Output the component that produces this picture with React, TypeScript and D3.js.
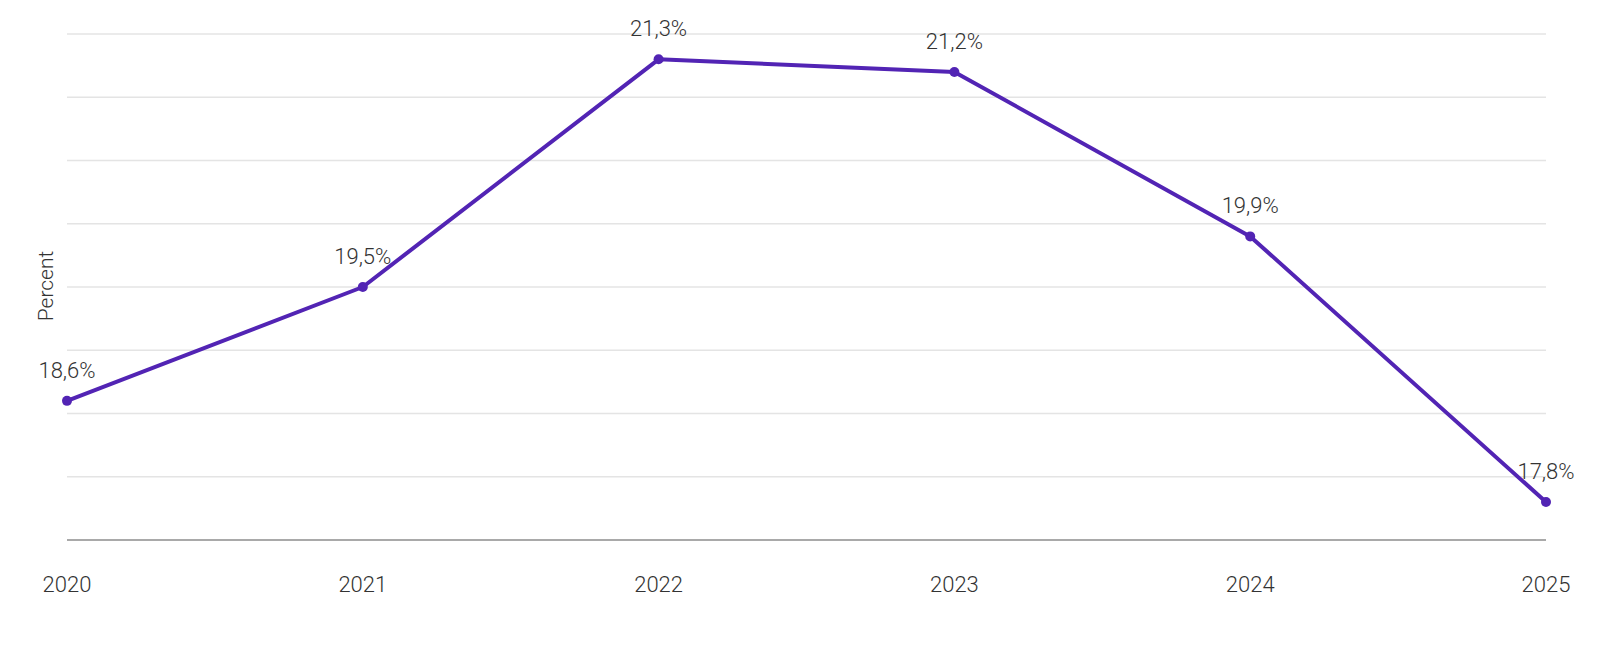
import React, { useRef, useEffect } from "react";
import * as d3 from "d3";

const years = ["2020", "2021", "2022", "2023", "2024", "2025"];
const values = [18.6, 19.5, 21.3, 21.2, 19.9, 17.8];
const gridTicks = [17.5, 18, 18.5, 19, 19.5, 20, 20.5, 21, 21.5];

const FONT = "Roboto, 'Noto Sans', sans-serif";
const LINE_COLOR = "#5224b4";
const TEXT_COLOR = "#333333";

export default function App() {
  const svgRef = useRef<SVGSVGElement>(null);

  useEffect(() => {
    if (!svgRef.current) return;
    const svg = d3.select(svgRef.current);
    svg.selectAll("*").remove();

    const width = 1600;
    const height = 658;
    const margin = { top: 34, right: 54, bottom: 118, left: 67 };
    const w = width - margin.left - margin.right;
    const h = height - margin.top - margin.bottom;

    svg.attr("width", width).attr("height", height).attr("viewBox", `0 0 ${width} ${height}`);

    svg.append("rect").attr("width", width).attr("height", height).attr("fill", "#ffffff");

    const g = svg.append("g").attr("transform", `translate(${margin.left},${margin.top})`);

    const x = d3.scalePoint().domain(years).range([0, w]);
    const y = d3.scaleLinear().domain([17.5, 21.5]).range([h, 0]);

    // Grid
    g.append("g")
      .selectAll("line")
      .data(gridTicks.slice(1))
      .enter()
      .append("line")
      .attr("x1", 0)
      .attr("x2", w)
      .attr("y1", (d) => y(d))
      .attr("y2", (d) => y(d))
      .attr("stroke", "#e4e4e4")
      .attr("stroke-width", 1.3);

    // Baseline
    g.append("line")
      .attr("x1", 0)
      .attr("x2", w)
      .attr("y1", y(17.5))
      .attr("y2", y(17.5))
      .attr("stroke", "#8c8c8c")
      .attr("stroke-width", 1.6);

    // X axis labels
    g.append("g")
      .selectAll("text")
      .data(years)
      .enter()
      .append("text")
      .attr("x", (d) => x(d) || 0)
      .attr("y", h + 52)
      .attr("text-anchor", "middle")
      .attr("fill", TEXT_COLOR)
      .attr("font-size", "22px")
      .attr("font-weight", 300)
      .attr("font-family", FONT)
      .text((d) => d);

    // Y axis title
    svg.append("text")
      .attr("transform", `translate(53,286) rotate(-90)`)
      .attr("text-anchor", "middle")
      .attr("fill", TEXT_COLOR)
      .attr("font-size", "21px")
      .attr("font-weight", 300)
      .attr("font-family", FONT)
      .text("Percent");

    const data = years.map((yr, i) => ({ yr, v: values[i] }));

    const line = d3
      .line<{ yr: string; v: number }>()
      .x((d) => x(d.yr) || 0)
      .y((d) => y(d.v));

    g.append("path")
      .datum(data)
      .attr("fill", "none")
      .attr("stroke", LINE_COLOR)
      .attr("stroke-width", 4)
      .attr("stroke-linejoin", "round")
      .attr("d", line);

    g.selectAll(".dot")
      .data(data)
      .enter()
      .append("circle")
      .attr("cx", (d) => x(d.yr) || 0)
      .attr("cy", (d) => y(d.v))
      .attr("r", 5)
      .attr("fill", LINE_COLOR);

    g.selectAll(".lbl")
      .data(data)
      .enter()
      .append("text")
      .attr("x", (d) => x(d.yr) || 0)
      .attr("y", (d) => y(d.v) - 23)
      .attr("text-anchor", "middle")
      .attr("fill", TEXT_COLOR)
      .attr("font-size", "22px")
      .attr("font-weight", 300)
      .attr("font-family", FONT)
      .text((d) => d.v.toFixed(1).replace(".", ",") + "%");
  }, []);

  return (
    <div style={{ margin: -8 }}>
      <svg ref={svgRef} style={{ display: "block" }} />
    </div>
  );
}
